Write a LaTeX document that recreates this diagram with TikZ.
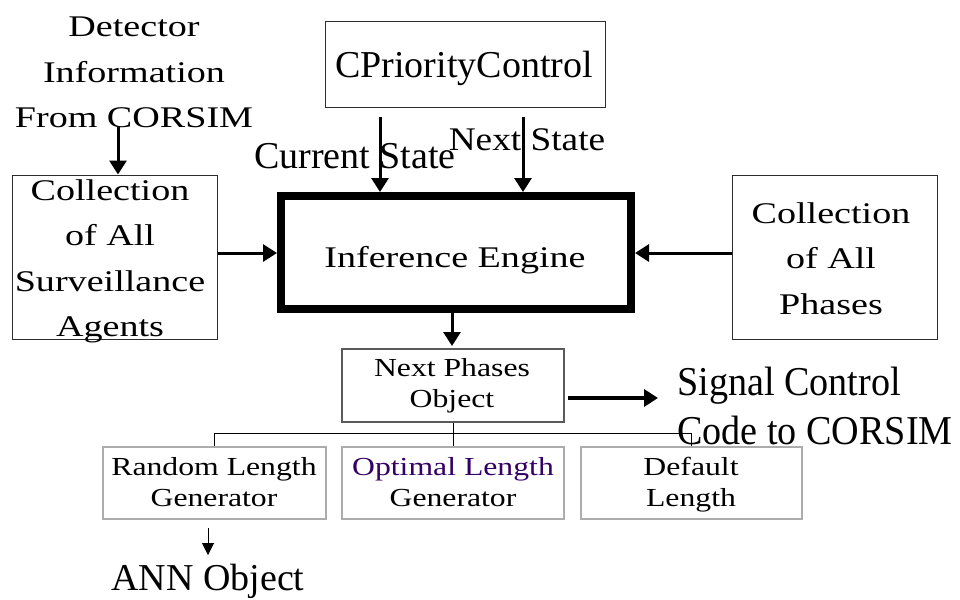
\documentclass[tikz,border=0pt]{standalone}
\usepackage{fontspec}
\setmainfont{Liberation Serif}
\newfontfamily\wideserif[FakeStretch=1.27]{Liberation Serif}
\newfontfamily\smallserif[FakeStretch=1.22]{Liberation Serif}
\newfontfamily\nextserif[FakeStretch=1.13]{Liberation Serif}
\newfontfamily\narrowserif[FakeStretch=0.93]{Liberation Serif}
\usetikzlibrary{arrows.meta}

\definecolor{edgedark}{RGB}{45,45,45}
\definecolor{edgemid}{RGB}{90,90,90}
\definecolor{edgelight}{RGB}{172,172,172}
\definecolor{optpurple}{RGB}{51,0,102}

% centred / left-aligned line stacks whose baseline is the first line
\newcommand\cstack[1]{\vtop{\lineskiplimit=-\maxdimen\halign{\hfil##\hfil\cr#1\crcr}}}
\newcommand\lstack[1]{\vtop{\lineskiplimit=-\maxdimen\halign{##\hfil\cr#1\crcr}}}

\tikzset{
  bigbox/.style={draw=edgedark, line width=1pt, inner sep=0pt},
  midbox/.style={draw=edgemid, line width=1.2pt, inner sep=0pt},
  smallbox/.style={draw=edgelight, line width=1.2pt, inner sep=0pt,
                   minimum height=72pt},
  enginebox/.style={draw=black, line width=8pt, inner sep=0pt},
  txt/.style={inner sep=0pt, anchor=base},
  bigtxt/.style={txt, font={\wideserif\fontsize{30}{45.5}\selectfont}},
  plaintxt/.style={txt, font={\fontsize{38}{46}\selectfont}},
  smalltxt/.style={txt, font={\smallserif\fontsize{26}{31}\selectfont}},
  arr/.style={line width=3pt, -{Triangle[length=14pt,width=17pt]}},
  thinarr/.style={line width=1pt, -{Triangle[length=12pt,width=12pt]}},
  bus/.style={line width=1pt, draw=black}
}

\begin{document}
\begin{tikzpicture}[x=1pt,y=-1pt]
\useasboundingbox[fill=white] (0,0) rectangle (960,599);

% boxes
\node[bigbox, minimum width=205pt, minimum height=164pt] (surv) at (114.5,257) {};
\node[bigbox, minimum width=205pt, minimum height=164pt] (phases) at (834.5,257) {};
\node[bigbox, minimum width=280pt, minimum height=86pt] (prio) at (465,65) {};
\node[enginebox, minimum width=350pt, minimum height=113pt] (engine) at (456,252.5) {};
\node[midbox, minimum width=222pt, minimum height=73pt] (npo) at (453,385.5) {};
\node[smallbox, minimum width=223pt] (rand) at (214.5,483) {};
\node[smallbox, minimum width=222pt] (opt) at (453,483) {};
\node[smallbox, minimum width=221pt] (dflt) at (691.5,483) {};

% texts
\node[bigtxt] (detector) at (134,37) {\cstack{Detector\cr Information\cr From CORSIM}};
\node[bigtxt] (survtxt) at (110,200) {\cstack{Collection\cr of All\cr Surveillance\cr Agents}};
\node[bigtxt] (phasestxt) at (831,223) {\cstack{Collection\cr of All\cr Phases}};
\node[plaintxt] (priotxt) at (464,78) {CPriorityControl};
\node[bigtxt] (enginetxt) at (455,267) {Inference Engine};
\node[plaintxt] (curtxt) at (355,168) {Current State};
\node[txt, font={\nextserif\fontsize{33}{40}\selectfont}] (nexttxt) at (527,150) {Next State};
\node[smalltxt] (npotxt) at (452,376) {\cstack{Next Phases\cr Object}};
\node[smalltxt] (randtxt) at (214,475) {\cstack{Random Length\cr Generator}};
\node[smalltxt] (opttxt) at (453,475) {\cstack{\textcolor{optpurple}{Optimal Length}\cr Generator}};
\node[smalltxt] (dflttxt) at (691,475) {\cstack{Default\cr Length}};
\node[txt, anchor=base west, font={\narrowserif\fontsize{41}{49}\selectfont}] (sigtxt) at (677,395) {\lstack{Signal Control\cr Code to CORSIM}};
\node[plaintxt] (anntxt) at (208,590) {ANN Object};

% arrows
\coordinate (detfoot) at (118,127);
\draw[arr] (detfoot) -- (detfoot |- surv.north);

\coordinate (midrow) at (0,253);
\draw[arr] (surv.east |- midrow) -- (engine.west |- midrow);
\draw[arr] (phases.west |- midrow) -- (engine.east |- midrow);

\coordinate (curfoot) at (380,117);
\coordinate (nextfoot) at (523,117);
\draw[arr] (curfoot) -- (curfoot |- engine.north);
\draw[arr] (nextfoot) -- (nextfoot |- engine.north);

\coordinate (nputip) at (452,346);
\draw[arr] (nputip |- engine.south) -- (nputip);

\coordinate (sigtail) at (568,398);
\coordinate (sigtip) at (658,398);
\draw[arr, line width=4pt] (sigtail) -- (sigtip);

% tree below the next phases object
\coordinate (busrow) at (0,433);
\draw[bus] (npo.south) -- (opt.north);
\draw[bus] (rand.north) -- (rand.north |- busrow) -- (dflt.north |- busrow) -- (dflt.north);

\coordinate (annfoot) at (208,528);
\coordinate (anntip) at (208,555);
\draw[thinarr] (annfoot) -- (anntip);
\end{tikzpicture}
\end{document}
